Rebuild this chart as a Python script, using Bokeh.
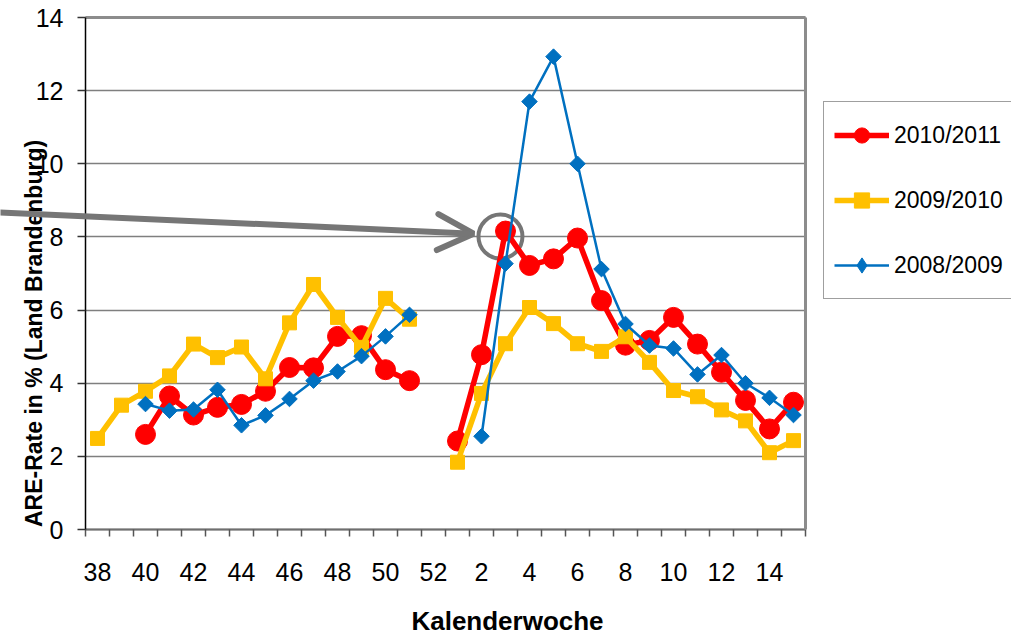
from bokeh.plotting import figure
from bokeh.models import (Range1d, FixedTicker, Legend, LegendItem, Label, Arrow, OpenHead,
                          LinearAxis, Grid)
from bokeh.embed import file_html
from bokeh.resources import INLINE

nan = float("nan")

weeks = list(range(38, 53)) + list(range(1, 16))
week_labels = [str(w) for w in weeks]

rate_2010_2011 = [nan, nan, 2.60, 3.65, 3.13, 3.34, 3.42, 3.78, 4.43, 4.42, 5.28, 5.30, 4.37, 4.07, nan,
                  2.42, 4.78, 8.16, 7.22, 7.40, 7.97, 6.26, 5.04, 5.17, 5.80, 5.07, 4.30, 3.53, 2.75, 3.48]
rate_2009_2010 = [2.49, 3.40, 3.78, 4.20, 5.07, 4.70, 4.99, 4.12, 5.65, 6.70, 5.80, 4.98, 6.32, 5.75, nan,
                  1.84, 3.72, 5.08, 6.07, 5.63, 5.08, 4.87, 5.27, 4.57, 3.80, 3.63, 3.27, 2.97, 2.10, 2.43]
rate_2008_2009 = [nan, nan, 3.43, 3.25, 3.28, 3.82, 2.85, 3.12, 3.57, 4.07, 4.32, 4.74, 5.28, 5.87, nan,
                  nan, 2.55, 7.27, 11.70, 12.93, 10.00, 7.12, 5.62, 5.03, 4.95, 4.24, 4.77, 4.00, 3.60, 3.13]

series_names = ["2010/2011", "2009/2010", "2008/2009"]
y_ticks = [0, 2, 4, 6, 8, 10, 12, 14]
y_min, y_max = 0, 14

x = list(range(len(weeks)))
FONT = "Liberation Sans"
GRAY = "#767676"

W, H = 1011, 634
# plot area in pixels: left 85, right 805, top 17, bottom 529
PL, PR, PT, PB = 85, 805, 17, 529
x0, x1 = -0.5, len(weeks) - 0.5
xs = (PR - PL) / (x1 - x0)
ys = (PB - PT) / (y_max - y_min)

p = figure(width=W, height=H, output_backend="svg", toolbar_location=None,
           x_range=Range1d(x0 - PL / xs, x1 + (W - PR) / xs),
           y_range=Range1d(y_min - (H - PB) / ys, y_max + PT / ys),
           min_border=0, min_border_left=0, min_border_right=0,
           min_border_top=0, min_border_bottom=0)

p.background_fill_color = "white"
p.border_fill_color = "white"
p.outline_line_color = None

# x axis
p.xaxis.fixed_location = y_min
p.xaxis.bounds = (x0, x1)
p.xaxis.ticker = FixedTicker(ticks=list(range(0, len(weeks), 2)),
                             minor_ticks=[i - 0.5 for i in range(len(weeks) + 1)])
p.xaxis.major_label_overrides = {i: week_labels[i] for i in range(0, len(weeks), 2)}
p.xaxis.major_tick_out = 0
p.xaxis.major_tick_in = 0
p.xaxis.minor_tick_out = 7
p.xaxis.minor_tick_in = 0
p.xaxis.minor_tick_line_color = "#555555"
p.xaxis.minor_tick_line_width = 1.5
p.xaxis.axis_line_color = "#6f6f6f"
p.xaxis.axis_line_width = 2
p.xaxis.major_label_standoff = 26
p.xaxis.major_label_text_font = FONT
p.xaxis.major_label_text_font_size = "25px"
p.xaxis.major_label_text_color = "black"

# y axis
p.yaxis.fixed_location = x0
p.yaxis.bounds = (y_min, y_max)
p.yaxis.ticker = FixedTicker(ticks=y_ticks)
p.yaxis.major_tick_out = 8
p.yaxis.major_tick_in = 0
p.yaxis.minor_tick_line_color = None
p.yaxis.major_tick_line_color = "#333333"
p.yaxis.major_tick_line_width = 1.5
p.yaxis.axis_line_color = "black"
p.yaxis.axis_line_width = 1.5
p.yaxis.major_label_standoff = 14
p.yaxis.major_label_text_font = FONT
p.yaxis.major_label_text_font_size = "25px"
p.yaxis.major_label_text_color = "black"

# plot-area border (top and right)
top_axis = LinearAxis(fixed_location=y_max, bounds=(x0, x1), ticker=FixedTicker(ticks=[]),
                      axis_line_color="#8c8c8c", axis_line_width=3,
                      major_tick_line_color=None, minor_tick_line_color=None,
                      major_label_text_color=None)
right_axis = LinearAxis(fixed_location=x1, bounds=(y_min, y_max), ticker=FixedTicker(ticks=[]),
                        axis_line_color="#8c8c8c", axis_line_width=3,
                        major_tick_line_color=None, minor_tick_line_color=None,
                        major_label_text_color=None)
p.add_layout(top_axis, "above")
p.add_layout(right_axis, "right")

# grid
p.xgrid.visible = False
if "cross_bounds" in Grid.properties():
    p.ygrid.ticker = FixedTicker(ticks=y_ticks)
    p.ygrid.cross_bounds = (x0, x1)
    p.ygrid.grid_line_color = "#7f7f7f"
    p.ygrid.grid_line_width = 1.5
else:
    p.ygrid.visible = False
    p.segment(x0=[x0] * len(y_ticks), x1=[x1] * len(y_ticks), y0=y_ticks, y1=y_ticks,
              line_color="#7f7f7f", line_width=1.5)

# highlight ring (annotation) under the data
p.scatter(x=[16.79], y=[8.01], marker="circle", size=44, fill_color=None,
          line_color=GRAY, line_width=4)

# series
RED, YELLOW, BLUE = "#ff0000", "#ffc000", "#0070c0"
l1 = p.line(x, rate_2010_2011, line_color=RED, line_width=5.5)
s1 = p.scatter(x, rate_2010_2011, marker="circle", size=20, fill_color=RED, line_color=RED)
l2 = p.line(x, rate_2009_2010, line_color=YELLOW, line_width=5.5)
s2 = p.scatter(x, rate_2009_2010, marker="square", size=14, fill_color=YELLOW, line_color=YELLOW)
l3 = p.line(x, rate_2008_2009, line_color=BLUE, line_width=2.5)
s3 = p.scatter(x, rate_2008_2009, marker="square", angle=0.785398, size=11,
               fill_color=BLUE, line_color=BLUE)
# legend-only diamond marker (no visible data)
s3_key = p.scatter(x=[nan], y=[nan], marker="diamond", size=18, fill_color=BLUE, line_color=BLUE)

legend = Legend(items=[LegendItem(label=series_names[0], renderers=[l1, s1]),
                       LegendItem(label=series_names[1], renderers=[l2, s2]),
                       LegendItem(label=series_names[2], renderers=[l3, s3_key])],
                location=(823, H - 299), padding=10, spacing=19, margin=0,
                glyph_width=55, glyph_height=38, label_height=46, label_width=130,
                label_standoff=5, label_text_font=FONT, label_text_font_size="23px",
                label_text_color="black",
                border_line_color="#404040", border_line_width=1.5,
                background_fill_color="white", background_fill_alpha=1.0)
p.add_layout(legend)

# axis titles
p.add_layout(Label(x=33, y=H - 333, x_units="screen", y_units="screen",
                   text="ARE-Rate in % (Land Brandenburg)", angle=90, angle_units="deg",
                   text_align="center", text_baseline="middle", text_font=FONT,
                   text_font_style="bold", text_font_size="23px", text_color="black"))
p.add_layout(Label(x=507, y=H - 620, x_units="screen", y_units="screen",
                   text="Kalenderwoche", text_align="center", text_baseline="middle",
                   text_font=FONT, text_font_style="bold", text_font_size="26px",
                   text_color="black"))

# arrow annotation
p.add_layout(Arrow(x_start=-4.46, y_start=8.68, x_end=15.67, y_end=8.09,
                   line_color=GRAY, line_width=6,
                   end=OpenHead(size=36, line_color=GRAY, line_width=6, line_cap="round")))

open("out.html", "w").write(file_html(p, INLINE))
